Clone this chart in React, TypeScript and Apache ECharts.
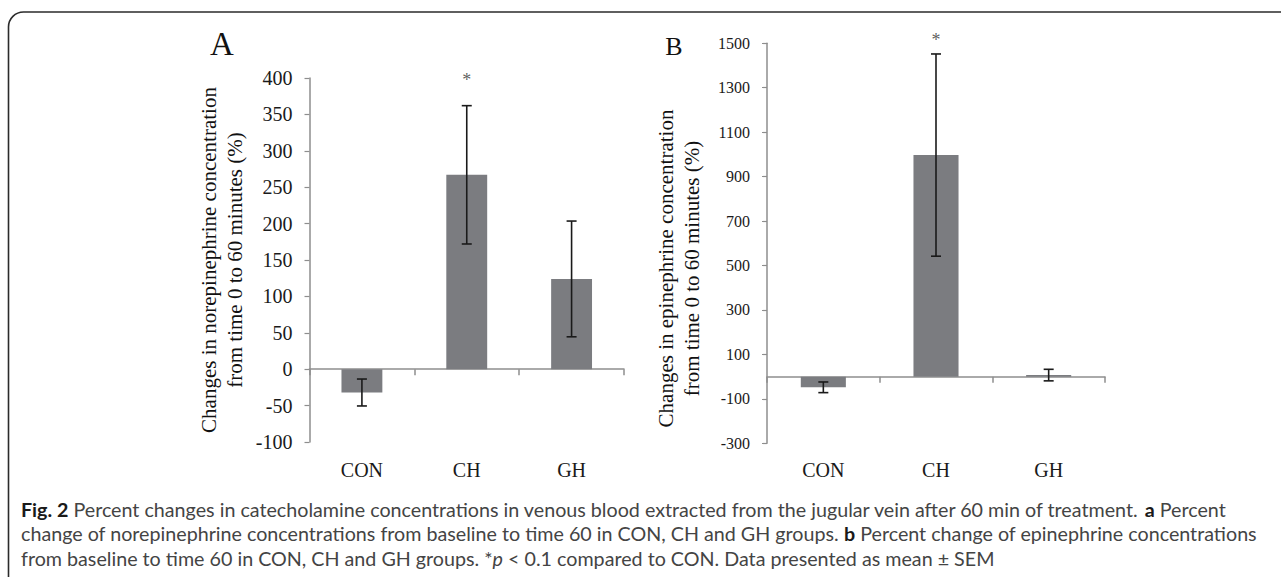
import React, { useEffect, useRef } from 'react';
import * as echarts from 'echarts';

const categories = ['CON', 'CH', 'GH'];
const norepiMean = [-32, 267, 124];
const norepiSem = [18.5, 95, 79.5];
const epiMean = [-48, 997, 7];
const epiSem = [24, 455, 26];
const sigMarkA = [null, 397, null];
const sigMarkB = [null, 1514, null];
const axisA = { min: -100, max: 400, interval: 50 };
const axisB = { min: -300, max: 1500, interval: 200 };

const captionLines = [
  '{b|Fig. 2} Percent changes in catecholamine concentrations in venous blood extracted from the jugular vein after 60 min of treatment. {b|a} Percent',
  'change of norepinephrine concentrations from baseline to time 60 in CON, CH and GH groups. {b|b} Percent change of epinephrine concentrations',
  'from baseline to time 60 in CON, CH and GH groups. *{i|p} < 0.1 compared to CON. Data presented as mean ± SEM',
];

const SERIF = '"Liberation Serif", "Times New Roman", serif';
const SANS = 'Lato, "Open Sans", sans-serif';
const AXIS_GRAY = '#8e8e8e';
const BAR = '#7b7c80';
const CAP_FS = 19.7;

const errRender = (params: any, api: any) => {
  const x = api.value(0);
  const m = api.value(1);
  const e = api.value(2);
  const hi = api.coord([x, m + e]);
  const lo = api.coord([x, m - e]);
  const w = 5;
  const style = { stroke: '#1a1a1a', lineWidth: 1.6 };
  return {
    type: 'group',
    children: [
      { type: 'line', shape: { x1: hi[0], y1: hi[1], x2: lo[0], y2: lo[1] }, style },
      { type: 'line', shape: { x1: hi[0] - w, y1: hi[1], x2: hi[0] + w, y2: hi[1] }, style },
      { type: 'line', shape: { x1: lo[0] - w, y1: lo[1], x2: lo[0] + w, y2: lo[1] }, style },
    ],
  };
};

function makeX(gridIndex: number, margin: number) {
  return {
    gridIndex,
    type: 'category',
    data: categories,
    axisLine: { show: true, onZero: true, lineStyle: { color: AXIS_GRAY, width: 1.5 } },
    axisTick: { show: true, length: 6, lineStyle: { color: AXIS_GRAY, width: 1.5 } },
    axisLabel: { show: true, margin, fontFamily: SERIF, fontSize: 20, color: '#1a1a1a' },
    splitLine: { show: false },
  };
}

function makeY(gridIndex: number, ax: any, fontSize: number, margin: number) {
  return {
    gridIndex,
    type: 'value',
    min: ax.min,
    max: ax.max,
    interval: ax.interval,
    axisLine: { show: true, lineStyle: { color: AXIS_GRAY, width: 1.5 } },
    axisTick: { show: true, length: 5, lineStyle: { color: AXIS_GRAY, width: 1.2 } },
    axisLabel: {
      show: true,
      margin,
      fontFamily: SERIF,
      fontSize,
      color: '#1a1a1a',
      formatter: (v: number) => String(v),
    },
    splitLine: { show: false },
  };
}

function sigSeries(idx: number, marks: (number | null)[]) {
  return {
    type: 'scatter',
    xAxisIndex: idx,
    yAxisIndex: idx,
    clip: false,
    symbolSize: 1,
    itemStyle: { color: 'rgba(0,0,0,0)' },
    data: marks.map((v, i) => (v == null ? null : [i, v])).filter((d) => d != null),
    label: {
      show: true,
      position: 'inside',
      formatter: '*',
      fontFamily: SERIF,
      fontSize: 18,
      color: '#333',
    },
    z: 5,
  };
}

export default function App() {
  const ref = useRef<HTMLDivElement>(null);
  useEffect(() => {
    if (!ref.current) return;
    const chart = echarts.init(ref.current, null, { renderer: 'svg' });
    const option: any = {
      animation: false,
      backgroundColor: '#ffffff',
      grid: [
        { left: 309.5, top: 78, width: 314.5, height: 364 },
        { left: 767, top: 43.3, width: 338, height: 400 },
      ],
      xAxis: [makeX(0, 18), makeX(1, 17)],
      yAxis: [makeY(0, axisA, 20, 17), makeY(1, axisB, 16, 17)],
      series: [
        {
          type: 'bar',
          xAxisIndex: 0,
          yAxisIndex: 0,
          data: norepiMean,
          barWidth: '39%',
          itemStyle: { color: BAR },
        },
        {
          type: 'custom',
          xAxisIndex: 0,
          yAxisIndex: 0,
          renderItem: errRender,
          data: categories.map((c, i) => [i, norepiMean[i], norepiSem[i]]),
          encode: { x: 0, y: 1 },
          z: 10,
        },
        sigSeries(0, sigMarkA),
        {
          type: 'bar',
          xAxisIndex: 1,
          yAxisIndex: 1,
          data: epiMean,
          barWidth: '40%',
          itemStyle: { color: BAR },
        },
        {
          type: 'custom',
          xAxisIndex: 1,
          yAxisIndex: 1,
          renderItem: errRender,
          data: categories.map((c, i) => [i, epiMean[i], epiSem[i]]),
          encode: { x: 0, y: 1 },
          z: 10,
        },
        sigSeries(1, sigMarkB),
      ],
      graphic: [
        {
          type: 'rect',
          shape: { x: 8.5, y: 12, width: 1320, height: 600, r: 15 },
          style: { fill: 'none', stroke: '#2b2b2b', lineWidth: 1.6 },
          silent: true,
        },
        {
          type: 'text',
          x: 222,
          y: 44,
          style: { text: 'A', fontFamily: SERIF, fontSize: 33, fill: '#111', align: 'center', verticalAlign: 'middle' },
        },
        {
          type: 'text',
          x: 674,
          y: 46,
          style: { text: 'B', fontFamily: SERIF, fontSize: 26, fill: '#111', align: 'center', verticalAlign: 'middle' },
        },
        {
          type: 'text',
          x: 222,
          y: 260,
          rotation: Math.PI / 2,
          style: {
            text: 'Changes in norepinephrine concentration\nfrom time 0 to 60 minutes (%)',
            fontFamily: SERIF,
            fontSize: 21,
            lineHeight: 26,
            fill: '#111',
            align: 'center',
            verticalAlign: 'middle',
          },
        },
        {
          type: 'text',
          x: 678.5,
          y: 268.5,
          rotation: Math.PI / 2,
          style: {
            text: 'Changes in epinephrine concentration\nfrom time 0 to 60 minutes (%)',
            fontFamily: SERIF,
            fontSize: 21,
            lineHeight: 26,
            fill: '#111',
            align: 'center',
            verticalAlign: 'middle',
          },
        },
        ...captionLines.map((t, i) => ({
          type: 'text',
          x: 21,
          y: 509 + i * 24.7,
          style: {
            text: t,
            fontFamily: SANS,
            fontSize: CAP_FS,
            fill: '#444',
            align: 'left',
            verticalAlign: 'middle',
            rich: {
              b: { fontFamily: SANS, fontSize: CAP_FS, fontWeight: 'bold', fill: '#1a1a1a' },
              i: { fontFamily: SANS, fontSize: CAP_FS, fontStyle: 'italic', fill: '#444' },
            },
          },
        })),
      ],
    };
    chart.setOption(option);
    return () => chart.dispose();
  }, []);
  return (
    <div
      ref={ref}
      style={{ position: 'absolute', left: 0, top: 0, width: 1281, height: 577, background: '#fff' }}
    />
  );
}
